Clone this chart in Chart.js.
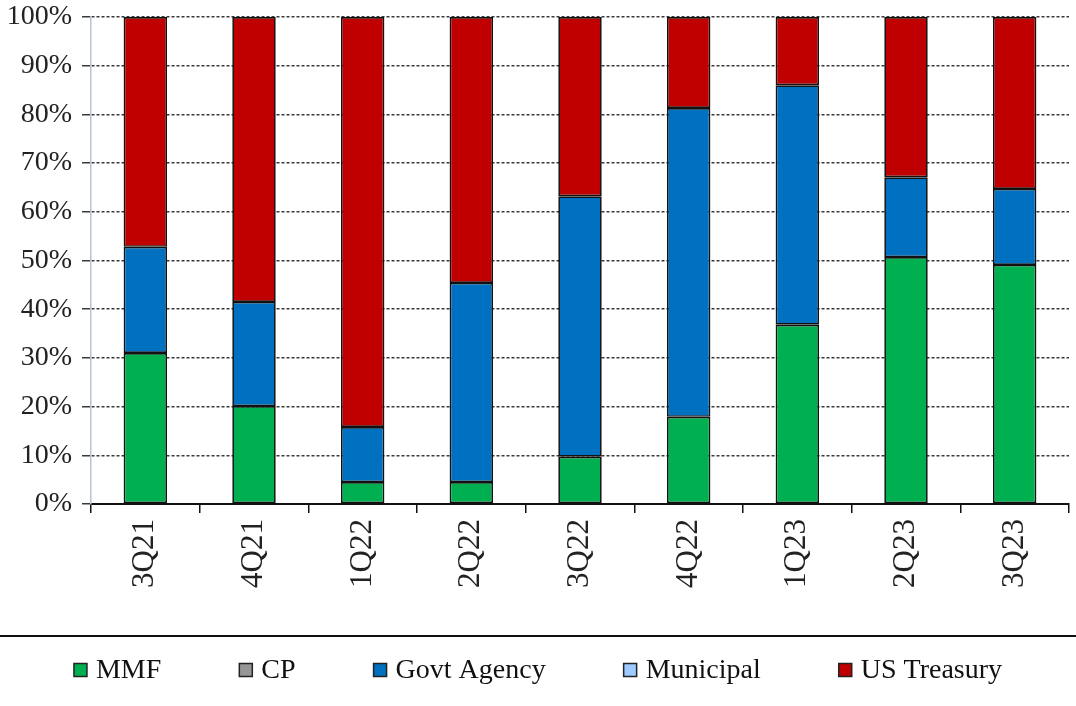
<!DOCTYPE html>
<html>
<head>
<meta charset="utf-8">
<script src="https://cdn.jsdelivr.net/npm/chart.js@4.4.0/dist/chart.umd.min.js"></script>
<style>
  html, body { margin: 0; padding: 0; background: #fff; }
  #wrap { width: 1076px; height: 706px; }
</style>
</head>
<body>
<div id="wrap"><canvas id="holdingsChart" width="1076" height="706"></canvas></div>
<script>
// --- Data (share of holdings, %) ---
const quarters = ['3Q21', '4Q21', '1Q22', '2Q22', '3Q22', '4Q22', '1Q23', '2Q23', '3Q23'];
const mmf       = [31.0, 20.1, 4.5, 4.5, 9.7, 17.9, 36.8, 50.7, 49.1];
const cp        = [0, 0, 0, 0, 0, 0, 0, 0, 0];
const govtAgency = [21.8, 21.4, 11.3, 40.9, 53.5, 63.4, 49.2, 16.4, 15.6];
const municipal = [0, 0, 0, 0, 0, 0, 0, 0, 0];
const usTreasury = [47.2, 58.5, 84.2, 54.6, 36.8, 18.7, 14.0, 32.9, 35.3];
const yTicks = [0, 10, 20, 30, 40, 50, 60, 70, 80, 90, 100];

const serif = "'Liberation Serif', 'Times New Roman', serif";

const series = [
    { label: 'MMF', data: mmf, color: '#00b050' },
    { label: 'CP', data: cp, color: '#969696' },
    { label: 'Govt Agency', data: govtAgency, color: '#0070c0' },
    { label: 'Municipal', data: municipal, color: '#9dcbff' },
    { label: 'US Treasury', data: usTreasury, color: '#c00000' }
];

// --- Legend strip under a rule, like the source sheet ---
const legendPlugin = {
    id: 'bottomLegend',
    afterDraw(chart) {
        const ctx = chart.ctx;
        const top = chart.height - 70;
        ctx.save();
        ctx.strokeStyle = '#111';
        ctx.lineWidth = 2;
        ctx.beginPath();
        ctx.moveTo(0, top);
        ctx.lineTo(chart.width, top);
        ctx.stroke();

        ctx.font = '28px ' + serif;
        ctx.textBaseline = 'middle';
        const box = 13, gapText = 9, gapItem = 78;
        const widths = series.map(s => box + gapText + ctx.measureText(s.label).width);
        const total = widths.reduce((a, b) => a + b, 0) + gapItem * (series.length - 1);
        let x = (chart.width - total) / 2;
        const cy = top + 34;
        series.forEach((s, i) => {
            ctx.fillStyle = s.color;
            ctx.fillRect(x, cy - box / 2, box, box);
            ctx.strokeStyle = '#222';
            ctx.lineWidth = 1.5;
            ctx.strokeRect(x, cy - box / 2, box, box);
            ctx.fillStyle = '#111';
            ctx.fillText(s.label, x + box + gapText, cy + 1);
            x += widths[i] + gapItem;
        });
        ctx.restore();
    }
};

const ctx = document.getElementById('holdingsChart').getContext('2d');

new Chart(ctx, {
    type: 'bar',
    data: {
        labels: quarters,
        datasets: series.map(s => ({
            label: s.label,
            data: s.data,
            backgroundColor: s.color,
            borderColor: '#111',
            borderWidth: s.data.some(v => v > 0) ? 1.7 : 0,
            borderSkipped: false,
            categoryPercentage: 1,
            barPercentage: 0.4
        }))
    },
    plugins: [legendPlugin],
    options: {
        responsive: false,
        animation: false,
        devicePixelRatio: 1,
        layout: { padding: { top: 17, right: 7, bottom: 70, left: 0 } },
        plugins: {
            legend: { display: false },
            tooltip: { enabled: false }
        },
        scales: {
            x: {
                stacked: true,
                afterFit(scale) {
                    scale.height = 132;
                    scale.paddingLeft = 0;
                    scale.paddingRight = 0;
                },
                grid: {
                    offset: true,
                    drawOnChartArea: false,
                    drawTicks: true,
                    tickLength: 9,
                    color: '#111',
                    lineWidth: 1.5
                },
                border: { display: true, color: '#111', width: 2 },
                ticks: {
                    minRotation: 90,
                    maxRotation: 90,
                    padding: 6,
                    color: '#222',
                    font: { family: serif, size: 31 }
                }
            },
            y: {
                stacked: true,
                min: 0,
                max: 100,
                afterFit(scale) {
                    scale.width = 91;
                    scale.paddingTop = 0;
                    scale.paddingBottom = 0;
                },
                afterBuildTicks(scale) { scale.ticks = yTicks.map(v => ({ value: v })); },
                grid: {
                    color: '#3a3a3a',
                    lineWidth: 1.5,
                    tickLength: 9
                },
                // v4: border.dash also dashes the grid lines
                border: { display: true, color: '#b8c3d6', width: 1.5, dash: [3, 2] },
                ticks: {
                    padding: 10,
                    color: '#222',
                    font: { family: serif, size: 28 },
                    callback: v => v + '%'
                }
            }
        }
    }
});
</script>
</body>
</html>
